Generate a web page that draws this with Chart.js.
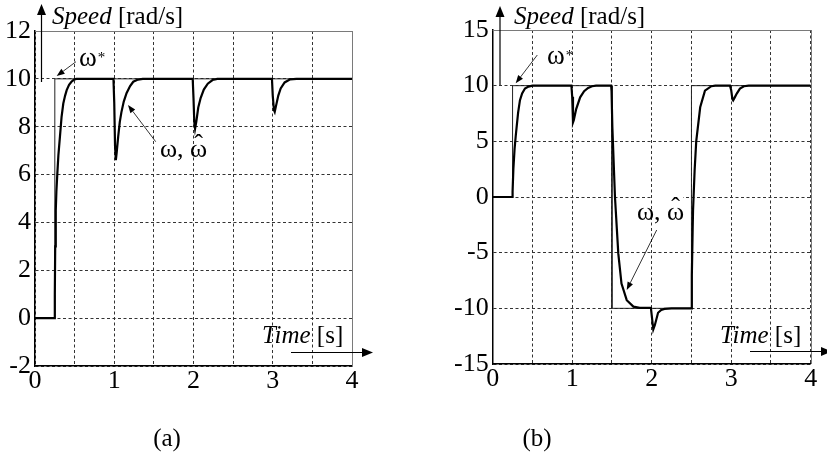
<!DOCTYPE html>
<html><head><meta charset="utf-8">
<script src="https://cdn.jsdelivr.net/npm/chart.js@4.4.0/dist/chart.umd.min.js"></script>
<style>
html,body{margin:0;padding:0;background:#fff;width:827px;height:454px;overflow:hidden}
canvas{position:absolute;top:0}
#ca{left:0}
#cb{left:420px}
</style></head><body>
<canvas id="ca" width="420" height="454"></canvas>
<canvas id="cb" width="407" height="454"></canvas>
<script>
// ---- tick labels / grid positions ----
const xGrid = [0,0.5,1,1.5,2,2.5,3,3.5,4];
const xTickLabels = [0,1,2,3,4];
const yTicksA = [-2,0,2,4,6,8,10,12];
const yTicksB = [-15,-10,-5,0,5,10,15];

// ---- (a) reference speed ω* ----
const refTimeA  = [0,0.25,0.25,4];
const refSpeedA = [0,0,10,10];
// ---- (a) actual / estimated speed ω, ω̂ ----
const timeA  = [0,0.245,0.25,0.255,0.262,0.27,0.281,0.295,0.315,0.335,0.357,0.38,0.40,0.43,0.46,0.49,0.52,
                0.99,1.0,1.01,1.02,1.03,1.05,1.07,1.09,1.12,1.155,1.2,1.24,1.3,1.36,
                1.99,2.0,2.01,2.02,2.035,2.06,2.09,2.13,2.18,2.24,2.3,
                2.99,3.0,3.015,3.025,3.04,3.07,3.1,3.15,3.22,3.3,4];
const speedA = [0,0,1,3,4.5,5.3,6,6.8,7.6,8.4,8.97,9.3,9.53,9.75,9.88,9.96,10,
                10,9.0,7.2,6.6,6.9,7.6,8.2,8.6,9.05,9.4,9.7,9.88,9.97,10,
                10,9.2,8.2,7.92,8.2,8.8,9.2,9.55,9.8,9.95,10,
                10,9.3,8.7,8.62,8.85,9.3,9.6,9.85,9.98,10,10];

// ---- (b) reference speed ω* ----
const refTimeB  = [0,0.25,0.25,1.5,1.5,2.5,2.5,4];
const refSpeedB = [0,0,10,10,-10,-10,10,10];
// ---- (b) actual / estimated speed ω, ω̂ ----
const timeB  = [0,0.245,0.25,0.26,0.275,0.29,0.30,0.32,0.343,0.37,0.406,0.45,0.5,
                0.99,1.0,1.01,1.02,1.05,1.1,1.15,1.2,1.25,1.3,
                1.49,1.495,1.505,1.538,1.58,1.62,1.686,1.77,1.85,
                1.99,2.0,2.02,2.04,2.08,2.12,2.16,2.25,
                2.5,2.505,2.515,2.52,2.54,2.56,2.61,2.67,2.75,2.8,
                2.985,3.0,3.015,3.025,3.045,3.07,3.11,3.16,3.22,4];
const speedB = [0,0,0.5,2.5,4.3,5.5,6.2,7.6,8.7,9.3,9.74,9.92,10,
                10,9,6.7,6.9,7.9,8.95,9.5,9.8,9.95,10,
                10,9.5,6.3,0,-5.09,-7.78,-9.27,-9.85,-9.95,
                -9.95,-10.6,-11.9,-11.5,-10.4,-10.15,-10.05,-10,
                -10,-7,-3,-1.2,2.4,5.0,8.06,9.55,9.95,10,
                10,9.6,8.8,8.69,8.95,9.29,9.74,9.95,10,10];

const SERIF = '"Liberation Serif","Times New Roman",serif';

function pts(xs, ys){ return xs.map((x,i)=>({x:x, y:ys[i]})); }

function arrow(ctx, x1, y1, x2, y2, hl, hw, lw){
  const a = Math.atan2(y2-y1, x2-x1);
  const bx = x2 - hl*Math.cos(a), by = y2 - hl*Math.sin(a);
  ctx.save();
  ctx.strokeStyle = '#000'; ctx.fillStyle = '#000'; ctx.lineWidth = lw;
  ctx.beginPath(); ctx.moveTo(x1,y1); ctx.lineTo(bx,by); ctx.stroke();
  ctx.beginPath();
  ctx.moveTo(x2,y2);
  ctx.lineTo(bx + hw*Math.sin(a), by - hw*Math.cos(a));
  ctx.lineTo(bx - hw*Math.sin(a), by + hw*Math.cos(a));
  ctx.closePath(); ctx.fill();
  ctx.restore();
}

function mixedText(ctx, x, y, parts){
  let cx = x;
  parts.forEach(p=>{
    ctx.font = p[1] + ' ' + SERIF;
    ctx.fillText(p[0], cx, y);
    cx += ctx.measureText(p[0]).width;
  });
}

function omegaHat(ctx, x, y, size){
  ctx.font = size + 'px ' + SERIF;
  const w1 = ctx.measureText('ω, ').width;
  ctx.fillText('ω, ', x, y);
  const w2 = ctx.measureText('ω').width;
  ctx.fillText('ω', x + w1, y);
  ctx.textAlign = 'center';
  ctx.fillText('\u02C6', x + w1 + w2/2, y - 5);
  ctx.textAlign = 'left';
}

function decor(spec){
  return {
    id: 'decor_' + spec.name,
    beforeDatasetsDraw(chart){
      const ctx = chart.ctx, ca = chart.chartArea;
      ctx.save();
      ctx.strokeStyle = '#7a7a7a'; ctx.lineWidth = 1;
      ctx.beginPath();
      ctx.moveTo(ca.left, Math.round(ca.top)+0.5); ctx.lineTo(ca.right, Math.round(ca.top)+0.5);
      ctx.moveTo(Math.round(ca.right)+0.5, ca.top); ctx.lineTo(Math.round(ca.right)+0.5, ca.bottom);
      ctx.stroke();
      if (spec.box){
        ctx.fillStyle = '#fff';
        ctx.fillRect(spec.box[0], spec.box[1], spec.box[2], spec.box[3]);
      }
      ctx.restore();
    },
    afterDraw(chart){
      const ctx = chart.ctx;
      ctx.save();
      ctx.fillStyle = '#000'; ctx.textBaseline = 'alphabetic'; ctx.textAlign = 'left';
      // axis arrows
      arrow(ctx, spec.yArrow[0], spec.yArrow[1], spec.yArrow[0], spec.yArrow[2], 11, 4.5, 1.2);
      arrow(ctx, spec.xArrow[0], spec.xArrow[2], spec.xArrow[1], spec.xArrow[2], 11, 4.5, 1.2);
      // axis titles
      mixedText(ctx, spec.speed[0], spec.speed[1], [['Speed','italic 25px'],[' [rad/s]','25px']]);
      mixedText(ctx, spec.time[0], spec.time[1], [['Time','italic 25px'],[' [s]','25px']]);
      // omega* label
      ctx.font = '27px ' + SERIF;
      ctx.fillText('ω', spec.wstar[0], spec.wstar[1]);
      const ww = ctx.measureText('ω').width;
      ctx.font = '15px ' + SERIF;
      ctx.fillText('*', spec.wstar[0] + ww + 1, spec.wstar[1] - 4);
      arrow(ctx, spec.wstarArrow[0], spec.wstarArrow[1], spec.wstarArrow[2], spec.wstarArrow[3], 8, 3, 0.8);
      // omega, omega-hat label
      omegaHat(ctx, spec.wl[0], spec.wl[1], 26);
      arrow(ctx, spec.wlArrow[0], spec.wlArrow[1], spec.wlArrow[2], spec.wlArrow[3], 8, 3, 0.8);
      // sub caption
      ctx.font = '25px ' + SERIF; ctx.textAlign = 'center';
      ctx.fillText(spec.caption[0], spec.caption[1], spec.caption[2]);
      ctx.restore();
    }
  };
}

function makeChart(id, t, v, rt, rv, yTicks, ymin, ymax, pad, yW, spec){
  return new Chart(document.getElementById(id), {
    type: 'line',
    data: { datasets: [
      { data: pts(t, v), borderColor: '#000', borderWidth: 2.2, pointRadius: 0, tension: 0, fill: false },
      { data: pts(rt, rv), borderColor: '#222', borderWidth: 1, pointRadius: 0, tension: 0, fill: false }
    ]},
    options: {
      responsive: false, animation: false, events: [],
      layout: { padding: pad },
      plugins: { legend: { display: false }, tooltip: { enabled: false } },
      scales: {
        x: {
          type: 'linear', min: 0, max: 4,
          afterBuildTicks: s => { s.ticks = xGrid.map(x => ({ value: x })); },
          afterFit: s => { s.height = 30; },
          ticks: { callback: x => xTickLabels.includes(x) ? String(x) : '', autoSkip: false, maxRotation: 0,
                   padding: 0, color: '#000', font: { family: SERIF, size: 26 } },
          grid: { color: '#333', lineWidth: 1, drawTicks: false },
          border: { display: true, color: '#000', width: 1.5, dash: [3, 2.5] }
        },
        y: {
          type: 'linear', min: ymin, max: ymax,
          afterBuildTicks: s => { s.ticks = yTicks.map(y => ({ value: y })); },
          afterFit: s => { s.width = yW; },
          ticks: { autoSkip: false, padding: 4, color: '#000', font: { family: SERIF, size: 26 } },
          grid: { color: '#333', lineWidth: 1, drawTicks: false },
          border: { display: true, color: '#000', width: 1.5, dash: [3, 2.5] }
        }
      }
    },
    plugins: [decor(spec)]
  });
}

makeChart('ca', timeA, speedA, refTimeA, refSpeedA, yTicksA, -2, 12,
  { left: 0, top: 31, right: 68, bottom: 58 }, 35,
  { name: 'a',
    yArrow: [41.5, 82, 4], xArrow: [291, 373, 352.5],
    speed: [52, 24], time: [262, 343],
    wstar: [79, 66], wstarArrow: [76, 61.7, 56.7, 76],
    wl: [160, 157], wlArrow: [155.7, 141.7, 128, 105],
    caption: ['(a)', 167, 446] });

makeChart('cb', timeB, speedB, refTimeB, refSpeedB, yTicksB, -15, 15,
  { left: 0, top: 30, right: 16.3, bottom: 60 }, 72.7,
  { name: 'b',
    yArrow: [80, 85, 6], xArrow: [330, 412, 351.5],
    speed: [94, 24], time: [300, 343],
    wstar: [127, 64], wstarArrow: [117.3, 55, 95.7, 83.3],
    wl: [217, 220], wlArrow: [236.7, 230, 206.7, 290],
    box: [232, 193, 31, 7],
    caption: ['(b)', 117, 446] });
</script>
</body></html>
